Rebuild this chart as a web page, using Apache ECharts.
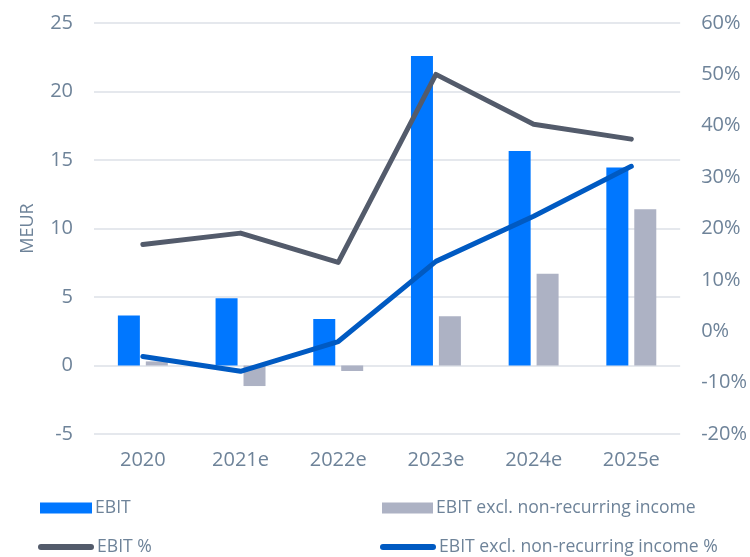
<!DOCTYPE html>
<html>
<head>
<meta charset="utf-8">
<script src="https://cdn.jsdelivr.net/npm/echarts@6/dist/echarts.min.js"></script>
<style>
  html, body { margin: 0; padding: 0; background: #fff; }
  #chart { width: 750px; height: 557px; }
</style>
</head>
<body>
<div id="chart"></div>
<script>
// Categories and series values (MEUR and %)
const years = ['2020', '2021e', '2022e', '2023e', '2024e', '2025e'];
const ebit = [3.65, 4.9, 3.4, 22.6, 15.65, 14.45];
const ebitExcl = [0.3, -1.5, -0.4, 3.6, 6.7, 11.4];
const ebitPct = [16.9, 19.1, 13.4, 50.0, 40.3, 37.4];
const ebitExclPct = [-4.9, -7.8, -2.0, 13.6, 22.4, 32.1];

const names = ['EBIT', 'EBIT excl. non-recurring income', 'EBIT %', 'EBIT excl. non-recurring income %'];

const textColor = '#6E8399';
const font = 'Open Sans';
const gridColor = '#DCE1E7';

const lineIcon = 'path://M3,0 L53,0 A3,3 0 0 1 53,6 L3,6 A3,3 0 0 1 3,0 Z';

function legendAt(name, left, top, icon, w, h) {
  return {
    data: [name],
    left: left,
    top: top,
    icon: icon,
    itemWidth: w,
    itemHeight: h,
    itemGap: 0,
    padding: 0,
    textStyle: { color: textColor, fontFamily: font, fontSize: 17.6, padding: [0, 0, 0, -2] }
  };
}

const chart = echarts.init(document.getElementById('chart'));
chart.setOption({
  animation: false,
  grid: { left: 94, right: 68, top: 23, bottom: 123 },
  legend: [
    legendAt(names[0], 40, 499, 'rect', 52, 11),
    legendAt(names[1], 382, 499, 'rect', 51, 11),
    legendAt(names[2], 38, 538, lineIcon, 56, 6),
    legendAt(names[3], 380, 538, lineIcon, 56, 6)
  ],
  xAxis: {
    type: 'category',
    data: years,
    axisLine: { show: false },
    axisTick: { show: false },
    axisLabel: { color: textColor, fontFamily: font, fontSize: 20, margin: 16 }
  },
  yAxis: [
    {
      type: 'value',
      min: -5, max: 25, interval: 5,
      name: 'MEUR',
      nameLocation: 'middle',
      nameGap: 57,
      nameTextStyle: { color: textColor, fontFamily: font, fontSize: 18 },
      axisLine: { show: false },
      axisTick: { show: false },
      axisLabel: { color: textColor, fontFamily: font, fontSize: 20, margin: 21 },
      splitLine: { lineStyle: { color: gridColor, width: 1.5 } }
    },
    {
      type: 'value',
      min: -20, max: 60, interval: 10,
      position: 'right',
      axisLine: { show: false },
      axisTick: { show: false },
      axisLabel: { color: textColor, fontFamily: font, fontSize: 20, margin: 21, formatter: '{value}%' },
      splitLine: { show: false }
    }
  ],
  series: [
    {
      name: names[0], type: 'bar', data: ebit,
      barWidth: 22, barGap: '27%',
      itemStyle: { color: '#0077FF' }
    },
    {
      name: names[1], type: 'bar', data: ebitExcl,
      barWidth: 22,
      itemStyle: { color: '#ADB2C4' }
    },
    {
      name: names[2], type: 'line', yAxisIndex: 1, data: ebitPct,
      symbol: 'none',
      lineStyle: { color: '#535B6B', width: 5, cap: 'round', join: 'round' },
      itemStyle: { color: '#535B6B' }
    },
    {
      name: names[3], type: 'line', yAxisIndex: 1, data: ebitExclPct,
      symbol: 'none',
      lineStyle: { color: '#005AC2', width: 5, cap: 'round', join: 'round' },
      itemStyle: { color: '#005AC2' }
    }
  ]
});
</script>
</body>
</html>
